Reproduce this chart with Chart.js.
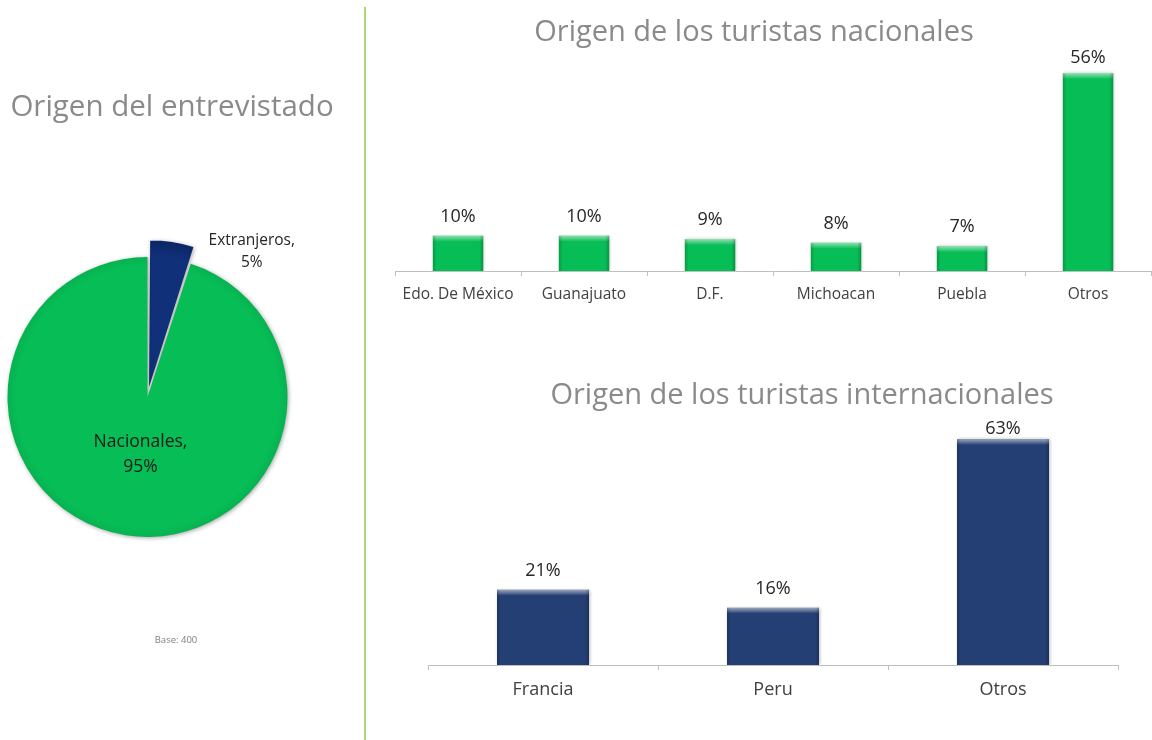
<!DOCTYPE html>
<html>
<head>
<meta charset="utf-8">
<script src="https://cdn.jsdelivr.net/npm/chart.js@4.4.1/dist/chart.umd.min.js"></script>
<style>
  html, body { margin: 0; padding: 0; background: #ffffff; }
  body { width: 1152px; height: 740px; position: relative; overflow: hidden; font-family: "Open Sans", sans-serif; }
  canvas { position: absolute; }
  #sep { position: absolute; left: 364px; top: 7px; width: 2px; height: 733px; background: #A8D872; }
</style>
</head>
<body>
<canvas id="pie" width="364" height="740" style="left:0;top:0;"></canvas>
<div id="sep"></div>
<canvas id="nat" width="772" height="320" style="left:380px;top:0;"></canvas>
<canvas id="intl" width="772" height="400" style="left:380px;top:340px;"></canvas>
<script>
// ---- Data ----
const pieLabels = ['Extranjeros', 'Nacionales'];
const pieValues = [5, 95];

const natCategories = ['Edo. De México', 'Guanajuato', 'D.F.', 'Michoacan', 'Puebla', 'Otros'];
const natValues = [10, 10, 9, 8, 7, 56];

const intCategories = ['Francia', 'Peru', 'Otros'];
const intValues = [21, 16, 63];

// ---- Styles ----
const FONT = '"Open Sans", Lato, sans-serif';
const GREEN = '#07BD56';
const NAVY_PIE = '#10307A';
const NAVY_BAR = '#243F74';
const TITLE_COLOR = '#8A8A8A';
const TEXT_COLOR = '#262626';

// draws free text items (titles etc.)
const textPlugin = {
  id: 'freeText',
  afterDraw(chart, args, opts) {
    const ctx = chart.ctx;
    (opts.items || []).forEach(it => {
      ctx.save();
      ctx.font = it.font;
      ctx.fillStyle = it.color;
      ctx.textAlign = 'center';
      ctx.textBaseline = 'middle';
      ctx.fillText(it.text, it.x, it.y);
      ctx.restore();
    });
  }
};

// value labels above bars (kept inside plot area like the original)
const barLabelPlugin = {
  id: 'barLabels',
  afterDatasetsDraw(chart, args, opts) {
    const ctx = chart.ctx;
    const minY = chart.chartArea.top + opts.minFromTop;
    chart.data.datasets.forEach((ds, di) => {
      const meta = chart.getDatasetMeta(di);
      meta.data.forEach((el, i) => {
        ctx.save();
        ctx.font = opts.font;
        ctx.fillStyle = TEXT_COLOR;
        ctx.textAlign = 'center';
        ctx.textBaseline = 'middle';
        ctx.fillText(ds.data[i] + '%', el.x, Math.max(el.y - opts.offset, minY));
        ctx.restore();
      });
    });
  }
};

// bevel effect on bars
const bevelPlugin = {
  id: 'bevel',
  beforeDatasetsDraw(chart) {
    const ctx = chart.ctx;
    ctx.save();
    ctx.shadowColor = 'rgba(0,0,0,0.28)';
    ctx.shadowBlur = 3;
    ctx.shadowOffsetX = 1;
    ctx.shadowOffsetY = 0;
  },
  afterDatasetsDraw(chart) {
    const ctx = chart.ctx;
    ctx.restore();
    const meta = chart.getDatasetMeta(0);
    meta.data.forEach(el => {
      const left = el.x - el.width / 2, right = el.x + el.width / 2;
      const top = el.y, bottom = el.base;
      ctx.save();
      let g = ctx.createLinearGradient(0, top, 0, top + 6);
      g.addColorStop(0, 'rgba(255,255,255,0.55)');
      g.addColorStop(1, 'rgba(255,255,255,0)');
      ctx.fillStyle = g;
      ctx.fillRect(left, top, el.width, 6);
      g = ctx.createLinearGradient(left, 0, left + 4, 0);
      g.addColorStop(0, 'rgba(0,0,0,0.18)');
      g.addColorStop(1, 'rgba(0,0,0,0)');
      ctx.fillStyle = g;
      ctx.fillRect(left, top, 4, bottom - top);
      g = ctx.createLinearGradient(right, 0, right - 4, 0);
      g.addColorStop(0, 'rgba(0,0,0,0.22)');
      g.addColorStop(1, 'rgba(0,0,0,0)');
      ctx.fillStyle = g;
      ctx.fillRect(right - 4, top, 4, bottom - top);
      ctx.restore();
    });
  }
};

// pie labels & shadow
const pieLabelPlugin = {
  id: 'pieLabels',
  beforeDatasetsDraw(chart) {
    const ctx = chart.ctx;
    ctx.save();
    ctx.shadowColor = 'rgba(0,0,0,0.35)';
    ctx.shadowBlur = 4;
    ctx.shadowOffsetX = 1;
    ctx.shadowOffsetY = 1;
  },
  afterDatasetsDraw(chart) {
    const ctx = chart.ctx;
    ctx.restore();
    const meta = chart.getDatasetMeta(0);
    const ext = meta.data[0], nac = meta.data[1];
    ctx.save();
    ctx.font = '15.5px ' + FONT;
    ctx.fillStyle = TEXT_COLOR;
    ctx.textAlign = 'center';
    ctx.textBaseline = 'middle';
    const r = ext.outerRadius;
    const ex = ext.x + r * 0.745, ey = ext.y - r * 1.12;
    ctx.fillText(pieLabels[0] + ',', ex, ey);
    ctx.fillText(pieValues[0] + '%', ex, ey + 22);
    const nx = nac.x - r * 0.05, ny = nac.y + r * 0.32;
    ctx.font = '17.5px ' + FONT;
    ctx.fillStyle = '#1a1a1a';
    ctx.fillText(pieLabels[1] + ',', nx, ny);
    ctx.fillText(pieValues[1] + '%', nx, ny + 25);
    ctx.restore();
  }
};

function radialFill(ctx, base, edge) {
  const chart = ctx.chart;
  const ca = chart.chartArea;
  if (!ca) return base;
  const cx = (ca.left + ca.right) / 2, cy = (ca.top + ca.bottom) / 2;
  const g = chart.ctx.createRadialGradient(cx, cy, 0, cx, cy, 152);
  g.addColorStop(0, base);
  g.addColorStop(0.86, base);
  g.addColorStop(1, edge);
  return g;
}

// ---- Pie chart ----
new Chart(document.getElementById('pie'), {
  type: 'pie',
  data: {
    labels: pieLabels,
    datasets: [{
      data: pieValues,
      backgroundColor: (c) => c.dataIndex === 0 ? radialFill(c, NAVY_PIE, '#0A2360') : radialFill(c, GREEN, '#05A449'),
      borderColor: '#ffffff',
      borderWidth: 0,
      offset: [40, 0],
      radius: 140
    }]
  },
  options: {
    responsive: false,
    animation: false,
    layout: { padding: { left: 0, right: 69, top: 240, bottom: 186 } },
    plugins: {
      legend: { display: false },
      tooltip: { enabled: false },
      freeText: {
        items: [
          { text: 'Origen del entrevistado', x: 172, y: 108, font: '29.5px ' + FONT, color: TITLE_COLOR },
          { text: 'Base: 400', x: 176, y: 640, font: '9.5px ' + FONT, color: '#808080' }
        ]
      }
    }
  },
  plugins: [pieLabelPlugin, textPlugin]
});

function barConfig(cats, vals, color, yMax, pad, axisH, tickFont, tickPad, title, labelFont, labelOffset, minFromTop) {
  return {
    type: 'bar',
    data: {
      labels: cats,
      datasets: [{
        data: vals,
        backgroundColor: color,
        borderWidth: 0,
        categoryPercentage: 1.0,
        barPercentage: 0.4
      }]
    },
    options: {
      responsive: false,
      animation: false,
      layout: { padding: pad },
      scales: {
        x: {
          grid: {
            display: true,
            offset: true,
            drawOnChartArea: false,
            drawTicks: true,
            tickLength: 5,
            color: '#BFBFBF'
          },
          border: { display: true, color: '#BFBFBF', width: 1 },
          ticks: { font: tickFont, color: '#404040', padding: tickPad, maxRotation: 0, autoSkip: false },
          afterFit: (s) => { s.height = axisH; }
        },
        y: { display: false, min: 0, max: yMax }
      },
      plugins: {
        legend: { display: false },
        tooltip: { enabled: false },
        barLabels: { font: labelFont, offset: labelOffset, minFromTop: minFromTop },
        freeText: { items: [title] }
      }
    },
    plugins: [bevelPlugin, barLabelPlugin, textPlugin]
  };
}

// ---- National bar chart ----
new Chart(document.getElementById('nat'), barConfig(
  natCategories, natValues, GREEN, 60,
  { left: 15, right: 1, top: 59, bottom: 0 }, 49,
  { family: FONT, size: 15.5 }, 9,
  { text: 'Origen de los turistas nacionales', x: 754 - 380, y: 33, font: '29px ' + FONT, color: TITLE_COLOR },
  '18px ' + FONT, 19, -1
));

// ---- International bar chart ----
new Chart(document.getElementById('intl'), barConfig(
  intCategories, intValues, NAVY_BAR, 70,
  { left: 48, right: 34, top: 74, bottom: 0 }, 75,
  { family: FONT, size: 18 }, 9,
  { text: 'Origen de los turistas internacionales', x: 802 - 380, y: 396 - 340, font: '29px ' + FONT, color: TITLE_COLOR },
  '18px ' + FONT, 19, 15
));
</script>
</body>
</html>
